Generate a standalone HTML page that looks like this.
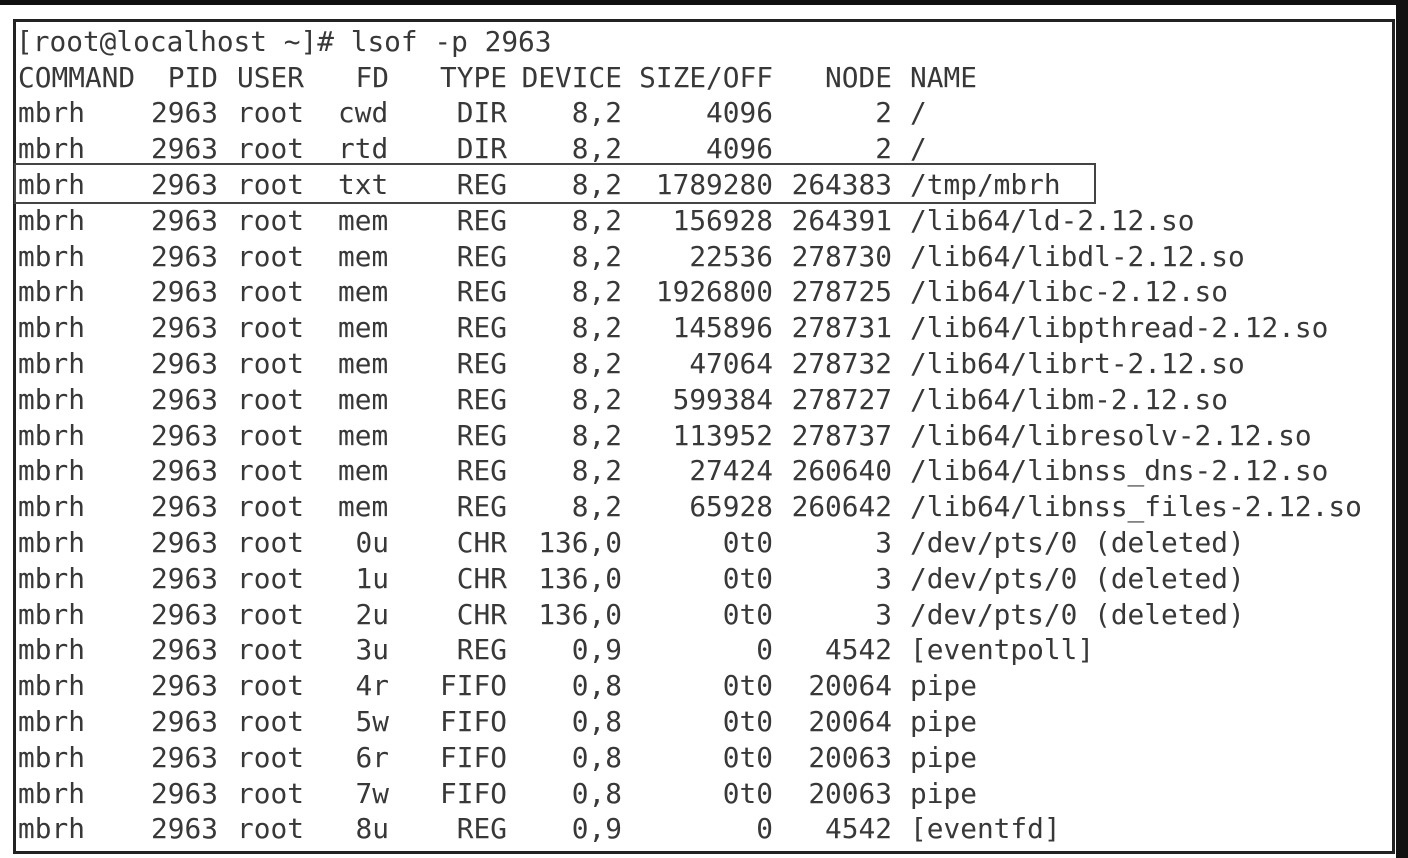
<!DOCTYPE html>
<html><head><meta charset="utf-8"><style>
html,body{margin:0;padding:0;background:#fff;}
body{width:1408px;height:858px;position:relative;overflow:hidden;font-family:"DejaVu Sans Mono","Liberation Mono",monospace;font-size:27.8px;color:#383838;}
#top{position:absolute;left:0;top:0;width:1408px;height:5px;background:#111;}
#right{position:absolute;left:1396px;top:0;width:12px;height:858px;background:#111;}
#frame{position:absolute;left:13px;top:19px;width:1376px;height:829px;border:3px solid #222;}
#hl{position:absolute;left:14px;top:163px;width:1078px;height:37px;border:2px solid #444;}
.row{position:absolute;left:0;width:1408px;height:36px;line-height:36px;}
.row span{position:absolute;top:0;white-space:pre;}
.c0{left:18px}.c2{left:237px}.c8{left:910px}
.c1{right:1190px}.c3{right:1019px}.c4{right:901px}.c5{right:786px}.c6{right:635px}.c7{right:516px}
.fdl{left:338px}
</style></head><body>
<div id="top"></div><div id="right"></div><div id="frame"></div><div id="hl"></div>
<div class="row" style="top:24px"><span style="left:16px">[root@localhost ~]# lsof -p 2963</span></div>
<div class="row" style="top:60px"><span class="c0">COMMAND</span><span class="c1">PID</span><span class="c2">USER</span><span class="c3">FD</span><span class="c4">TYPE</span><span class="c5">DEVICE</span><span class="c6">SIZE/OFF</span><span class="c7">NODE</span><span class="c8">NAME</span></div>
<div class="row" style="top:95px"><span class="c0">mbrh</span><span class="c1">2963</span><span class="c2">root</span><span class="fdl">cwd</span><span class="c4">DIR</span><span class="c5">8,2</span><span class="c6">4096</span><span class="c7">2</span><span class="c8">/</span></div>
<div class="row" style="top:131px"><span class="c0">mbrh</span><span class="c1">2963</span><span class="c2">root</span><span class="fdl">rtd</span><span class="c4">DIR</span><span class="c5">8,2</span><span class="c6">4096</span><span class="c7">2</span><span class="c8">/</span></div>
<div class="row" style="top:167px"><span class="c0">mbrh</span><span class="c1">2963</span><span class="c2">root</span><span class="fdl">txt</span><span class="c4">REG</span><span class="c5">8,2</span><span class="c6">1789280</span><span class="c7">264383</span><span class="c8">/tmp/mbrh</span></div>
<div class="row" style="top:203px"><span class="c0">mbrh</span><span class="c1">2963</span><span class="c2">root</span><span class="fdl">mem</span><span class="c4">REG</span><span class="c5">8,2</span><span class="c6">156928</span><span class="c7">264391</span><span class="c8">/lib64/ld-2.12.so</span></div>
<div class="row" style="top:239px"><span class="c0">mbrh</span><span class="c1">2963</span><span class="c2">root</span><span class="fdl">mem</span><span class="c4">REG</span><span class="c5">8,2</span><span class="c6">22536</span><span class="c7">278730</span><span class="c8">/lib64/libdl-2.12.so</span></div>
<div class="row" style="top:274px"><span class="c0">mbrh</span><span class="c1">2963</span><span class="c2">root</span><span class="fdl">mem</span><span class="c4">REG</span><span class="c5">8,2</span><span class="c6">1926800</span><span class="c7">278725</span><span class="c8">/lib64/libc-2.12.so</span></div>
<div class="row" style="top:310px"><span class="c0">mbrh</span><span class="c1">2963</span><span class="c2">root</span><span class="fdl">mem</span><span class="c4">REG</span><span class="c5">8,2</span><span class="c6">145896</span><span class="c7">278731</span><span class="c8">/lib64/libpthread-2.12.so</span></div>
<div class="row" style="top:346px"><span class="c0">mbrh</span><span class="c1">2963</span><span class="c2">root</span><span class="fdl">mem</span><span class="c4">REG</span><span class="c5">8,2</span><span class="c6">47064</span><span class="c7">278732</span><span class="c8">/lib64/librt-2.12.so</span></div>
<div class="row" style="top:382px"><span class="c0">mbrh</span><span class="c1">2963</span><span class="c2">root</span><span class="fdl">mem</span><span class="c4">REG</span><span class="c5">8,2</span><span class="c6">599384</span><span class="c7">278727</span><span class="c8">/lib64/libm-2.12.so</span></div>
<div class="row" style="top:418px"><span class="c0">mbrh</span><span class="c1">2963</span><span class="c2">root</span><span class="fdl">mem</span><span class="c4">REG</span><span class="c5">8,2</span><span class="c6">113952</span><span class="c7">278737</span><span class="c8">/lib64/libresolv-2.12.so</span></div>
<div class="row" style="top:453px"><span class="c0">mbrh</span><span class="c1">2963</span><span class="c2">root</span><span class="fdl">mem</span><span class="c4">REG</span><span class="c5">8,2</span><span class="c6">27424</span><span class="c7">260640</span><span class="c8">/lib64/libnss_dns-2.12.so</span></div>
<div class="row" style="top:489px"><span class="c0">mbrh</span><span class="c1">2963</span><span class="c2">root</span><span class="fdl">mem</span><span class="c4">REG</span><span class="c5">8,2</span><span class="c6">65928</span><span class="c7">260642</span><span class="c8">/lib64/libnss_files-2.12.so</span></div>
<div class="row" style="top:525px"><span class="c0">mbrh</span><span class="c1">2963</span><span class="c2">root</span><span class="c3">0u</span><span class="c4">CHR</span><span class="c5">136,0</span><span class="c6">0t0</span><span class="c7">3</span><span class="c8">/dev/pts/0 (deleted)</span></div>
<div class="row" style="top:561px"><span class="c0">mbrh</span><span class="c1">2963</span><span class="c2">root</span><span class="c3">1u</span><span class="c4">CHR</span><span class="c5">136,0</span><span class="c6">0t0</span><span class="c7">3</span><span class="c8">/dev/pts/0 (deleted)</span></div>
<div class="row" style="top:597px"><span class="c0">mbrh</span><span class="c1">2963</span><span class="c2">root</span><span class="c3">2u</span><span class="c4">CHR</span><span class="c5">136,0</span><span class="c6">0t0</span><span class="c7">3</span><span class="c8">/dev/pts/0 (deleted)</span></div>
<div class="row" style="top:632px"><span class="c0">mbrh</span><span class="c1">2963</span><span class="c2">root</span><span class="c3">3u</span><span class="c4">REG</span><span class="c5">0,9</span><span class="c6">0</span><span class="c7">4542</span><span class="c8">[eventpoll]</span></div>
<div class="row" style="top:668px"><span class="c0">mbrh</span><span class="c1">2963</span><span class="c2">root</span><span class="c3">4r</span><span class="c4">FIFO</span><span class="c5">0,8</span><span class="c6">0t0</span><span class="c7">20064</span><span class="c8">pipe</span></div>
<div class="row" style="top:704px"><span class="c0">mbrh</span><span class="c1">2963</span><span class="c2">root</span><span class="c3">5w</span><span class="c4">FIFO</span><span class="c5">0,8</span><span class="c6">0t0</span><span class="c7">20064</span><span class="c8">pipe</span></div>
<div class="row" style="top:740px"><span class="c0">mbrh</span><span class="c1">2963</span><span class="c2">root</span><span class="c3">6r</span><span class="c4">FIFO</span><span class="c5">0,8</span><span class="c6">0t0</span><span class="c7">20063</span><span class="c8">pipe</span></div>
<div class="row" style="top:776px"><span class="c0">mbrh</span><span class="c1">2963</span><span class="c2">root</span><span class="c3">7w</span><span class="c4">FIFO</span><span class="c5">0,8</span><span class="c6">0t0</span><span class="c7">20063</span><span class="c8">pipe</span></div>
<div class="row" style="top:811px"><span class="c0">mbrh</span><span class="c1">2963</span><span class="c2">root</span><span class="c3">8u</span><span class="c4">REG</span><span class="c5">0,9</span><span class="c6">0</span><span class="c7">4542</span><span class="c8">[eventfd]</span></div>
</body></html>
